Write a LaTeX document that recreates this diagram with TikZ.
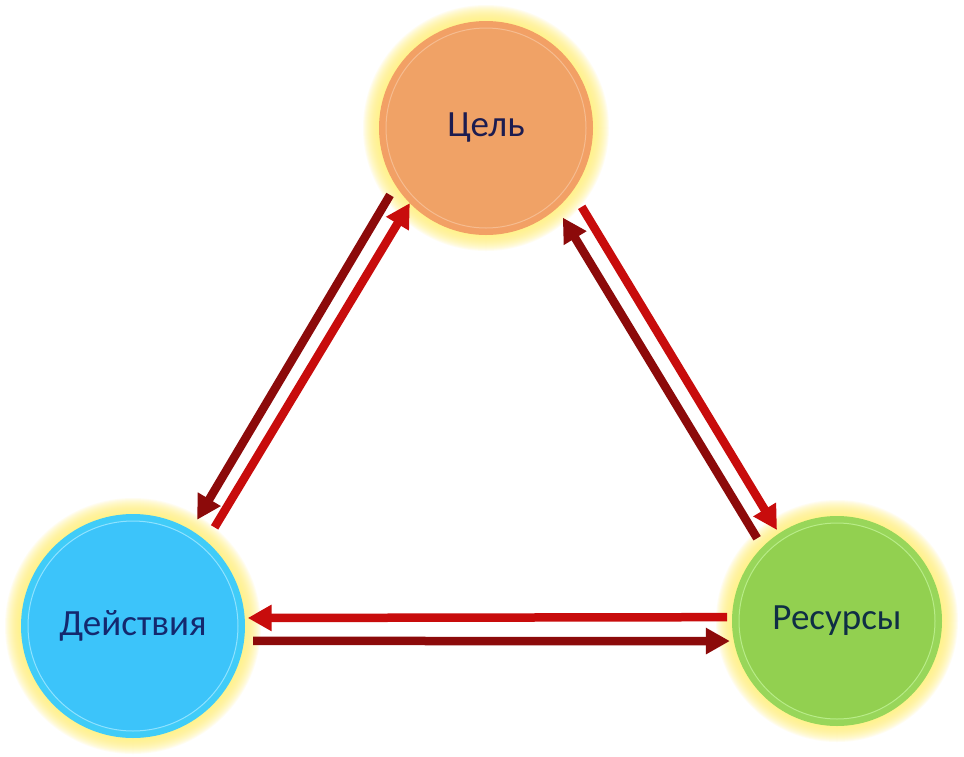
\documentclass[tikz,border=0pt]{standalone}
\usepackage{fontspec}
\setmainfont{Carlito}
\usetikzlibrary{arrows.meta}
\definecolor{glowc}{HTML}{FFF27A}
\definecolor{orgout}{HTML}{F2A065}
\definecolor{orgin}{HTML}{F0A266}
\definecolor{orgrim}{HTML}{F6BC90}
\definecolor{bluout}{HTML}{40CCF8}
\definecolor{bluin}{HTML}{3CC4FA}
\definecolor{blurim}{HTML}{8EE2FF}
\definecolor{grnout}{HTML}{98D65A}
\definecolor{grnin}{HTML}{92D050}
\definecolor{grnrim}{HTML}{B8EC88}
\definecolor{darkarr}{HTML}{8C0A0A}
\definecolor{redarr}{HTML}{C80C0C}
\definecolor{txtA}{HTML}{1C1C50}
\definecolor{txtB}{HTML}{14286E}
\definecolor{txtC}{HTML}{0F2E45}
\tikzset{
  bubble/.style={circle, inner sep=0pt, font=\fontsize{37}{44}\selectfont},
  darkline/.style={draw=darkarr, line width=8.5pt, -{Triangle[width=25pt,length=24pt]}},
  redline/.style={draw=redarr, line width=8.5pt, -{Triangle[width=25pt,length=24pt]}},
}
\newcommand{\glowball}[5]{%
  \foreach \k in {16,15,...,1}{\fill[glowc, opacity=0.10] #1 circle ({#2+\k pt});}
  \fill[#3] #1 circle (#2pt);
  \fill[#4, draw=#5, line width=1pt] #1 circle ({#2-7pt});
}
\begin{document}
\begin{tikzpicture}[x=1pt,y=-1pt]
\useasboundingbox (0,0) rectangle (964,756);
\fill[white] (0,0) rectangle (964,756);

\glowball{(486,128)}{107}{orgout}{orgin}{orgrim}
\glowball{(133,626)}{112}{bluout}{bluin}{blurim}
\glowball{(837,621)}{105}{grnout}{grnin}{grnrim}

\node[bubble, minimum size=214pt, text=txtA] (goal) at (486,128) {Цель};
\node[bubble, minimum size=224pt, text=txtB] (act) at (133,626) {Действия};
\node[bubble, minimum size=210pt, text=txtC] (res) at (837,621) {Ресурсы};

% goal <-> actions
\draw[darkline] ([shift={(214.9:117pt)}]goal.center) -- ([shift={(58.9:124pt)}]act.center);
\draw[redline] ([shift={(50.4:128pt)}]act.center) -- ([shift={(224.6:107pt)}]goal.center);
% goal <-> resources
\draw[redline] ([shift={(320.5:124pt)}]goal.center) -- ([shift={(123.4:109pt)}]res.center);
\draw[darkline] ([shift={(134:115pt)}]res.center) -- ([shift={(310.6:118pt)}]goal.center);
% actions <-> resources
\draw[redline] ([shift={(178:110pt)}]res.center) -- ([shift={(4:115pt)}]act.center);
\draw[darkline] ([shift={(-7.1:121pt)}]act.center) -- ([shift={(190.6:109pt)}]res.center);
\end{tikzpicture}
\end{document}
